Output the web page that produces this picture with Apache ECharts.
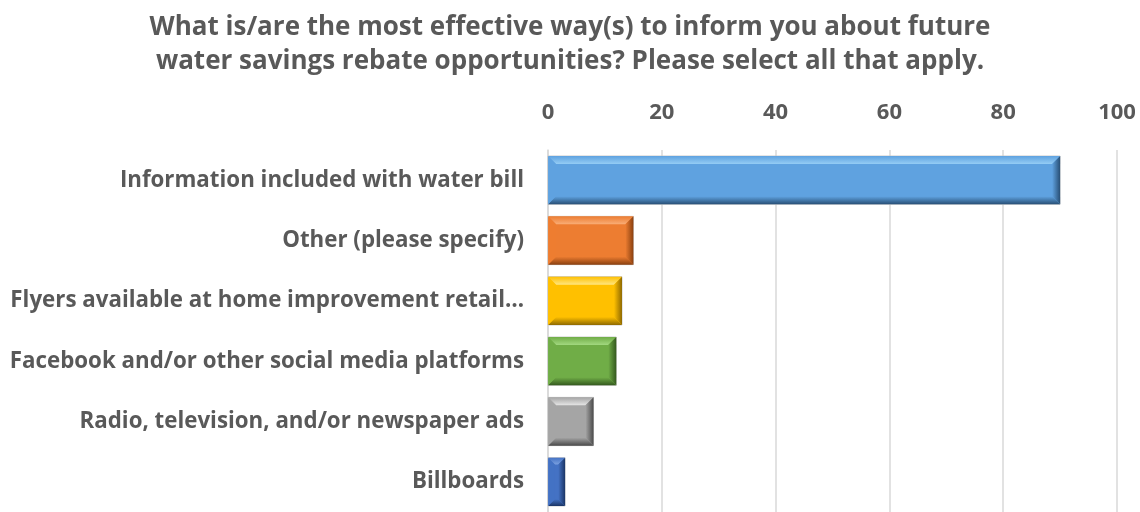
<!DOCTYPE html>
<html>
<head>
<meta charset="utf-8">
<script src="https://cdn.jsdelivr.net/npm/echarts@6/dist/echarts.min.js"></script>
<style>
  html, body { margin: 0; padding: 0; background: #fff; }
  #chart { width: 1140px; height: 512px; }
</style>
</head>
<body>
<div id="chart"></div>
<script>
const categories = [
  'Information included with water bill',
  'Other (please specify)',
  'Flyers available at home improvement retail stores',
  'Facebook and/or other social media platforms',
  'Radio, television, and/or newspaper ads',
  'Billboards'
]
const values = [90, 15, 13, 12, 8, 3]
const tickValues = [0, 20, 40, 60, 80, 100]

// light / base / dark per bar
const palette = [
  ['#95cdf5', '#5fa2e0', '#284f75'],
  ['#f9ae78', '#ed7d31', '#8a4010'],
  ['#ffe680', '#ffc000', '#8f6a00'],
  ['#a2d880', '#70ad47', '#34591e'],
  ['#e6e6e6', '#a5a5a5', '#4a4a4a'],
  ['#7aa0e0', '#4472c4', '#1a3566']
]

const labelFont = 'bold 22.3px "Open Sans"'
const maxLabelWidth = 525
const measureCtx = document.createElement('canvas').getContext('2d')

// cut long labels at a word, the way the spreadsheet does
function fitLabel(text) {
  measureCtx.font = labelFont
  if (measureCtx.measureText(text).width <= maxLabelWidth) return text
  const words = text.split(' ')
  while (words.length > 1) {
    words.pop()
    const t = words.join(' ') + '…'
    if (measureCtx.measureText(t).width <= maxLabelWidth) return t
  }
  return words[0]
}

const chart = echarts.init(document.getElementById('chart'))

// bevelled bar, drawn from the axis coordinates
function renderBevel(params, api) {
  const v = api.value(0)
  const idx = api.value(1)
  const start = api.coord([0, idx])
  const end = api.coord([v, idx])
  const band = api.size([0, 1])[1]
  const h = band * 0.8
  const x0 = start[0], x1 = end[0]
  const y0 = start[1] - h / 2, y1 = start[1] + h / 2
  const b = Math.min(8, (x1 - x0) / 2.5)
  const c = palette[idx]
  return {
    type: 'group',
    children: [
      { type: 'rect', shape: { x: x0, y: y0, width: x1 - x0, height: h },
        style: { fill: c[1], stroke: '#c8c8c8', lineWidth: 1 } },
      { type: 'polygon', shape: { points: [[x0, y0], [x1, y0], [x1 - b, y0 + b], [x0 + b, y0 + b]] },
        style: { fill: { type: 'linear', x: 0, y: 0, x2: 0, y2: 1,
          colorStops: [{ offset: 0, color: c[1] }, { offset: 1, color: c[0] }] } } },
      { type: 'polygon', shape: { points: [[x0, y1], [x1, y1], [x1 - b, y1 - b], [x0 + b, y1 - b]] },
        style: { fill: { type: 'linear', x: 0, y: 0, x2: 0, y2: 1,
          colorStops: [{ offset: 0, color: c[1] }, { offset: 1, color: c[2] }] } } },
      { type: 'polygon', shape: { points: [[x0, y0], [x0 + b, y0 + b], [x0 + b, y1 - b], [x0, y1]] },
        style: { fill: c[1], opacity: 0.9 } },
      { type: 'polygon', shape: { points: [[x1, y0], [x1 - b, y0 + b], [x1 - b, y1 - b], [x1, y1]] },
        style: { fill: { type: 'linear', x: 0, y: 0, x2: 1, y2: 0,
          colorStops: [{ offset: 0, color: c[1] }, { offset: 1, color: c[2] }] } } }
    ]
  }
}

chart.setOption({
  animation: false,
  title: {
    text: 'What is/are the most effective way(s) to inform you about future\nwater savings rebate opportunities? Please select all that apply.',
    left: 'center',
    top: 6,
    textStyle: {
      fontFamily: 'Open Sans',
      fontWeight: 'bold',
      fontSize: 26,
      lineHeight: 34,
      color: '#595959'
    }
  },
  grid: {
    left: 548,
    right: 23,
    top: 150,
    bottom: -4
  },
  xAxis: {
    type: 'value',
    position: 'top',
    min: 0,
    max: 100,
    interval: 20,
    axisLine: { show: false },
    axisTick: { show: false },
    splitLine: { lineStyle: { color: '#d9d9d9', width: 1.5 } },
    axisLabel: {
      margin: 26,
      fontFamily: 'Open Sans',
      fontWeight: 'bold',
      fontSize: 22,
      color: '#595959',
      formatter: (v) => tickValues.includes(v) ? String(v) : ''
    }
  },
  yAxis: {
    type: 'category',
    inverse: true,
    data: categories,
    axisLine: { show: true, lineStyle: { color: '#d9d9d9', width: 1.5 } },
    axisTick: { show: false },
    axisLabel: {
      margin: 24,
      fontFamily: 'Open Sans',
      fontWeight: 'bold',
      fontSize: 22.3,
      color: '#595959',
      formatter: fitLabel
    }
  },
  series: [{
    type: 'custom',
    renderItem: renderBevel,
    encode: { x: 0, y: 1 },
    data: values.map((v, i) => [v, i])
  }]
})
</script>
</body>
</html>
